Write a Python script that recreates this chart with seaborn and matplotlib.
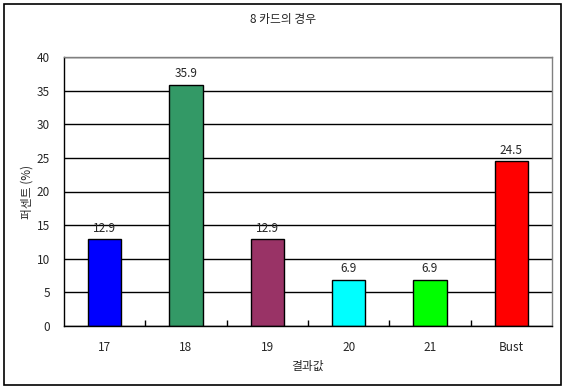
import matplotlib
matplotlib.use("Agg")
import matplotlib.pyplot as plt
import seaborn as sns
import pandas as pd
from matplotlib.patches import Rectangle
from matplotlib.ticker import FixedLocator

categories = ["17", "18", "19", "20", "21", "Bust"]
values = [12.9, 35.9, 12.9, 6.9, 6.9, 24.5]
colors = ["#0000FF", "#339966", "#993366", "#00FFFF", "#00FF00", "#FF0000"]
title = "8 카드의 경우"
xlabel = "결과값"
ylabel = "퍼센트 (%)"
yticks = [0, 5, 10, 15, 20, 25, 30, 35, 40]

sns.set_theme(style="white")
plt.rcParams["font.family"] = ["Noto Sans CJK KR", "DejaVu Sans"]

df = pd.DataFrame({"cat": categories, "val": values})

fig = plt.figure(figsize=(5.66, 3.89), dpi=100)
ax = fig.add_axes([64/566, 63/389, 488/566, 269/389])
sns.barplot(data=df, x="cat", y="val", hue="cat", palette=colors, order=categories,
            edgecolor="black", linewidth=1, width=0.41, legend=False, ax=ax, saturation=1)

ax.set_ylim(0, 40)
ax.set_xlim(-0.5, len(categories) - 0.5)
ax.set_yticks(yticks)
ax.set_yticklabels([str(t) for t in yticks], fontsize=8.5)
ax.yaxis.grid(True, color="black", linewidth=1)
ax.set_axisbelow(True)
ax.tick_params(axis="y", length=0, pad=10)
ax.tick_params(axis="x", which="major", length=0, pad=11, labelsize=8.5)
ax.xaxis.set_minor_locator(FixedLocator([i + 0.5 for i in range(len(categories) - 1)]))
ax.tick_params(axis="x", which="minor", direction="in", length=4, width=1, color="black", bottom=True)

for s in ["left", "bottom"]:
    ax.spines[s].set_color("black")
    ax.spines[s].set_linewidth(1)
for s in ["top", "right"]:
    ax.spines[s].set_color("#808080")
    ax.spines[s].set_linewidth(1)

for i, v in enumerate(values):
    ax.annotate(f"{v}", (i, v), xytext=(0, 3), textcoords="offset points",
                ha="center", va="bottom", fontsize=8.5)

ax.set_xlabel(xlabel, fontsize=8.5)
ax.set_ylabel(ylabel, fontsize=8.5)
ax.xaxis.set_label_coords(0.5, -(366 - 326) / 269, transform=ax.transAxes)
ax.xaxis.label.set_va("center")
ax.yaxis.set_label_coords(-(64 - 27) / 488, 0.5, transform=ax.transAxes)
ax.yaxis.label.set_va("center")
fig.text(0.5, 1 - 20/389, title, ha="center", va="center", fontsize=8.5)

fig.patches.append(Rectangle((4/566, 4/389), 557/566, 381/389, transform=fig.transFigure,
                             fill=False, edgecolor="black", linewidth=1.2))

fig.savefig("out.png", dpi=100)
